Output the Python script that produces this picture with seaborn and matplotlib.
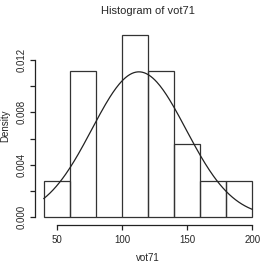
import numpy as np
import pandas as pd
import matplotlib
matplotlib.use("Agg")
import matplotlib.pyplot as plt
import seaborn as sns

# Data
bin_edges = [40, 60, 80, 100, 120, 140, 160, 180, 200]
bin_mids = [50, 70, 90, 110, 130, 150, 170, 190]
bin_counts = [1, 4, 0, 5, 4, 2, 1, 1]
curve_mean = 113.0
curve_sd = 36.0
x_ticks = [50, 100, 150, 200]
y_ticks = [0.000, 0.002, 0.004, 0.006, 0.008, 0.010, 0.012]
y_tick_labels = ["0.000", "", "0.004", "", "0.008", "", "0.012"]

sns.set_style("white")
plt.rcParams["font.family"] = ["Liberation Sans", "DejaVu Sans"]

fig = plt.figure(figsize=(2.62, 2.62), dpi=100)
ax = fig.add_axes([0.135, 0.143, 0.86, 0.752])

df = pd.DataFrame({"vot71": bin_mids, "n": bin_counts})
sns.histplot(data=df, x="vot71", weights="n", bins=bin_edges, stat="density",
             fill=False, color="#333333", linewidth=0.9, ax=ax)

xs = np.linspace(bin_edges[0], bin_edges[-1], 200)
ys = np.exp(-0.5 * ((xs - curve_mean) / curve_sd) ** 2) / (curve_sd * np.sqrt(2 * np.pi))
sns.lineplot(x=xs, y=ys, color="#222222", linewidth=0.9, ax=ax)

ax.set_xlim(33.6, 206.4)
ax.set_ylim(-0.000556, 0.01446)

for s in ["top", "right"]:
    ax.spines[s].set_visible(False)
for s in ["left", "bottom"]:
    ax.spines[s].set_visible(True)
    ax.spines[s].set_color("#222222")
    ax.spines[s].set_linewidth(0.9)
ax.spines["left"].set_bounds(0, 0.012)
ax.spines["bottom"].set_bounds(50, 200)

ax.set_xticks(x_ticks)
ax.set_xticklabels([str(v) for v in x_ticks], fontsize=7)
ax.set_yticks(y_ticks)
ax.set_yticklabels(y_tick_labels, fontsize=7, rotation=90, va="center")
ax.tick_params(axis="both", direction="out", length=3.6, width=0.9, color="#222222",
               left=True, bottom=True)
ax.tick_params(axis="x", pad=4)
ax.tick_params(axis="y", pad=3)

ax.set_xlabel("vot71", fontsize=7, labelpad=6)
ax.set_ylabel("Density", fontsize=7, labelpad=4)
ax.set_title("Histogram of vot71", fontsize=8, pad=10)

fig.savefig("out.png", dpi=100)
